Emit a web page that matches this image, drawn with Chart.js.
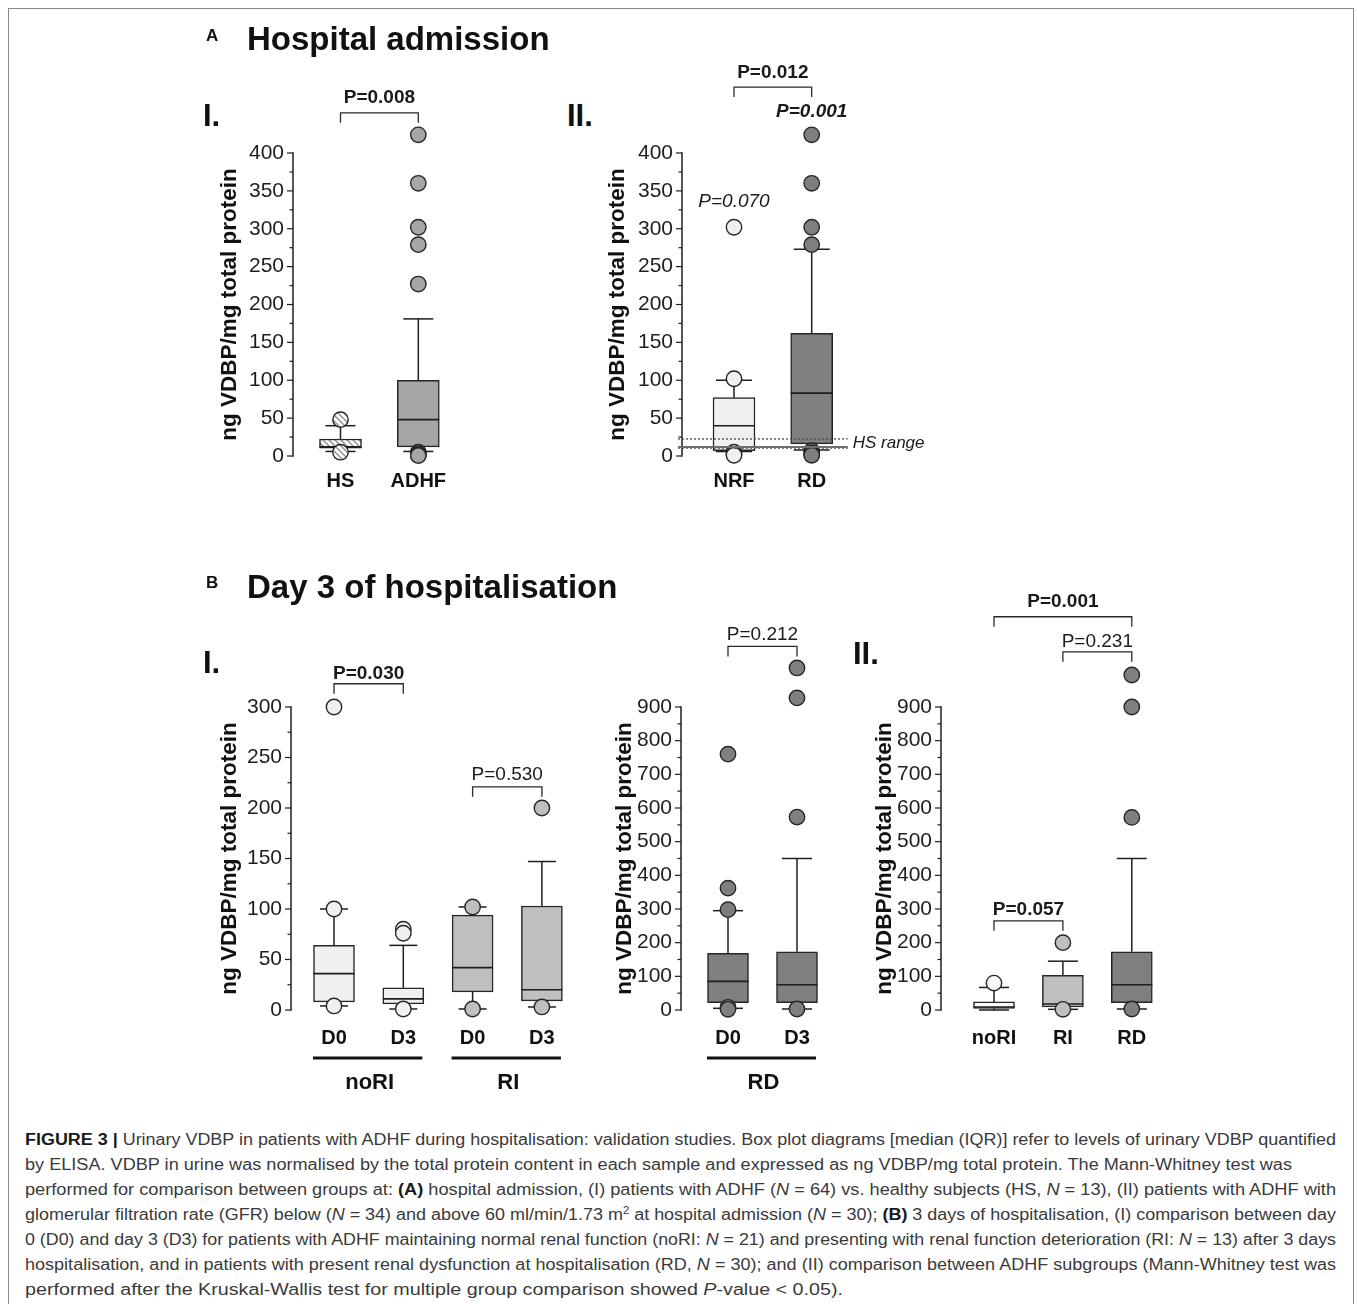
<!DOCTYPE html>
<html><head><meta charset="utf-8">
<script src="https://cdn.jsdelivr.net/npm/chart.js@4.4.1/dist/chart.umd.min.js"></script>
<style>
html,body{margin:0;padding:0;background:#fff;}
body{width:1358px;height:1304px;position:relative;overflow:hidden;font-family:"Liberation Sans",Arial,Helvetica,sans-serif;}
#frame{position:absolute;left:8px;top:8px;width:1346px;height:1330px;border:1px solid #8a8a8a;box-sizing:border-box;}
canvas{position:absolute;}
.hd{position:absolute;font-weight:bold;color:#111;white-space:nowrap;line-height:1;}
.cap{position:absolute;left:25px;white-space:nowrap;font-size:16px;color:#3a3a3a;line-height:25px;transform-origin:0 50%;}
.cap b{color:#1a1a1a;}
.cap sup{font-size:10px;line-height:1;vertical-align:6px;}
</style></head><body>
<div id="frame"></div>
<script>
// ---------------- DATA ----------------
const Y_TITLE = 'ng VDBP/mg total protein';
const A_yTickLabels = [0, 50, 100, 150, 200, 250, 300, 350, 400];
const B1_yTickLabels = [0, 50, 100, 150, 200, 250, 300];
const B_yTickLabels900 = [0, 100, 200, 300, 400, 500, 600, 700, 800, 900];

// A-I: hospital admission, HS vs ADHF
const A1_categories = ['HS', 'ADHF'];
const A1_q1 = [10.5, 12];
const A1_median = [12, 48];
const A1_q3 = [22.5, 100];
const A1_whiskerLow = [6, 6];
const A1_whiskerHigh = [40, 181];
const A1_outliers = [[48, 5], [424, 360, 302, 279, 227, 5, 3, 1.5, 0.5]];

// A-II: NRF vs RD
const A2_categories = ['NRF', 'RD'];
const A2_q1 = [7, 16];
const A2_median = [40, 83];
const A2_q3 = [77, 162];
const A2_whiskerLow = [6, 8];
const A2_whiskerHigh = [100, 273];
const A2_outliers = [[302, 102, 5, 2, 1], [424, 360, 302, 279, 7, 4, 2, 1]];

// B-I: D0 vs D3 in noRI and RI
const B1_categories = ['D0', 'D3', 'D0', 'D3'];
const B1_groups = ['noRI', 'RI'];
const B1_q1 = [8, 6, 18, 9];
const B1_median = [36, 11, 42, 20];
const B1_q3 = [64, 22, 94, 103];
const B1_whiskerLow = [4, 1, 1, 3];
const B1_whiskerHigh = [100, 64, 102, 147];
const B1_outliers = [[300, 100, 4], [80, 76, 1], [102, 1], [200, 3]];

// B-I: D0 vs D3 in RD
const B2_categories = ['D0', 'D3'];
const B2_groups = ['RD'];
const B2_q1 = [22, 22];
const B2_median = [85, 75];
const B2_q3 = [168, 173];
const B2_whiskerLow = [5, 3];
const B2_whiskerHigh = [295, 450];
const B2_outliers = [[760, 362, 298, 8, 2], [1016, 927, 573, 3]];

// B-II: subgroups
const B3_categories = ['noRI', 'RI', 'RD'];
const B3_q1 = [5, 9, 22];
const B3_median = [9, 18, 75];
const B3_q3 = [24, 103, 173];
const B3_whiskerLow = [0, 2, 3];
const B3_whiskerHigh = [67, 145, 450];
const B3_outliers = [[80], [200, 2], [995, 900, 572, 3]];

// HS range shown in A-II comes from the HS box of A-I
const A2_hsRange = [A1_q1[0], A1_median[0], A1_q3[0]];

// ---------------- RENDERING ----------------
const FONT = '"Liberation Sans", Arial, Helvetica, sans-serif';
Chart.defaults.font.family = FONT;
const INK = '#1e1e1e';

function hatchPattern() {
  const c = document.createElement('canvas'); c.width = 6; c.height = 6;
  const g = c.getContext('2d');
  g.fillStyle = '#ffffff'; g.fillRect(0, 0, 6, 6);
  g.strokeStyle = '#8a8a8a'; g.lineWidth = 1.3;
  g.beginPath();
  g.moveTo(-1, -1); g.lineTo(7, 7);
  g.moveTo(-4, 2); g.lineTo(4, 10);
  g.moveTo(2, -4); g.lineTo(10, 4);
  g.stroke();
  return g.createPattern(c, 'repeat');
}
const HATCH = hatchPattern();

const panels = [
  { id: 'A1', cats: A1_categories, q1: A1_q1, med: A1_median, q3: A1_q3, wLo: A1_whiskerLow, wHi: A1_whiskerHigh, out: A1_outliers,
    fills: [HATCH, '#a6a6a6'], yMajor: A_yTickLabels, yMinor: 25,
    L: { left: 293, top: 153, bottom: 456, first: 340.5, step: 77.8, titleOff: 63, xPad: 13, capW: 30, boxW: 42, yScaleMax: 450, rightRoom: 40,
      brackets: [{ from: 1, to: 2, at: 453, textAt: 473, text: 'P=0.008', bold: true }], texts: [] } },
  { id: 'A2', cats: A2_categories, q1: A2_q1, med: A2_median, q3: A2_q3, wLo: A2_whiskerLow, wHi: A2_whiskerHigh, out: A2_outliers,
    fills: ['#f0f0f0', '#7f7f7f'], yMajor: A_yTickLabels, yMinor: 25, hsRange: A2_hsRange,
    L: { left: 682, top: 153, bottom: 456, first: 734, step: 77.7, titleOff: 64, xPad: 13, capW: 36, boxW: 42, yScaleMax: 450, rightRoom: 110,
      brackets: [{ from: 1, to: 2, at: 487, textAt: 506, text: 'P=0.012', bold: true }],
      texts: [{ x: 2, at: 454, text: 'P=0.001', bold: true, italic: true }, { x: 1, at: 336, text: 'P=0.070', italic: true }] } },
  { id: 'B1', cats: B1_categories, groups: B1_groups, q1: B1_q1, med: B1_median, q3: B1_q3, wLo: B1_whiskerLow, wHi: B1_whiskerHigh, out: B1_outliers,
    fills: ['#f0f0f0', '#f0f0f0', '#bfbfbf', '#bfbfbf'], yMajor: B1_yTickLabels, yMinor: 25,
    L: { left: 291, top: 707, bottom: 1010, first: 334, step: 69.3, titleOff: 61, xPad: 16, capW: 28, boxW: 41, yScaleMax: 330, rightRoom: 40,
      brackets: [{ from: 1, to: 2, at: 323, textAt: 333, text: 'P=0.030', bold: true }, { from: 3, to: 4, at: 221, textAt: 232.5, text: 'P=0.530' }],
      texts: [], groupSpans: [[1, 2], [3, 4]] } },
  { id: 'B2', cats: B2_categories, groups: B2_groups, q1: B2_q1, med: B2_median, q3: B2_q3, wLo: B2_whiskerLow, wHi: B2_whiskerHigh, out: B2_outliers,
    fills: ['#7f7f7f', '#7f7f7f'], yMajor: B_yTickLabels900, yMinor: 50,
    L: { left: 681, top: 707, bottom: 1010, first: 728, step: 69, titleOff: 56, xPad: 16, capW: 30, boxW: 41, yScaleMax: 1060, rightRoom: 40,
      brackets: [{ from: 1, to: 2, at: 1080, textAt: 1115, text: 'P=0.212' }], texts: [], groupSpans: [[1, 2]] } },
  { id: 'B3', cats: B3_categories, q1: B3_q1, med: B3_median, q3: B3_q3, wLo: B3_whiskerLow, wHi: B3_whiskerHigh, out: B3_outliers,
    fills: ['#fafafa', '#bfbfbf', '#7f7f7f'], yMajor: B_yTickLabels900, yMinor: 50,
    L: { left: 941, top: 707, bottom: 1010, first: 994, step: 68.9, titleOff: 56, xPad: 16, capW: 30, boxW: 41, yScaleMax: 1060, rightRoom: 40,
      brackets: [{ from: 1, to: 3, at: 1168, textAt: 1212, text: 'P=0.001', bold: true }, { from: 2, to: 3, at: 1064, textAt: 1093, text: 'P=0.231' }, { from: 1, to: 2, at: 265, textAt: 297, text: 'P=0.057', bold: true }],
      texts: [] } }
];

function extras(P) {
  const L = P.L;
  const yTop = P.yMajor[P.yMajor.length - 1];
  return {
    id: 'extras' + P.id,
    beforeDatasetsDraw(chart) {
      const { ctx, scales: { x, y } } = chart;
      ctx.save(); ctx.strokeStyle = INK; ctx.lineWidth = 1.5;
      P.cats.forEach((c, i) => {
        const px = x.getPixelForValue(i + 1);
        const seg = (a, b) => { ctx.beginPath(); ctx.moveTo(px, y.getPixelForValue(a)); ctx.lineTo(px, y.getPixelForValue(b)); ctx.stroke(); };
        const cap = v => { const py = y.getPixelForValue(v); ctx.beginPath(); ctx.moveTo(px - L.capW / 2, py); ctx.lineTo(px + L.capW / 2, py); ctx.stroke(); };
        if (P.wHi[i] > P.q3[i]) { seg(P.q3[i], P.wHi[i]); cap(P.wHi[i]); }
        if (P.wLo[i] < P.q1[i]) { seg(P.q1[i], P.wLo[i]); cap(P.wLo[i]); }
      });
      ctx.restore();
    },
    afterDatasetDraw(chart, args) {
      if (args.meta.type !== 'bar') return;
      const { ctx, scales: { x, y } } = chart;
      ctx.save(); ctx.strokeStyle = INK; ctx.lineWidth = 1.6;
      P.cats.forEach((c, i) => {
        const px = x.getPixelForValue(i + 1), py = y.getPixelForValue(P.med[i]);
        ctx.beginPath(); ctx.moveTo(px - L.boxW / 2, py); ctx.lineTo(px + L.boxW / 2, py); ctx.stroke();
      });
      ctx.restore();
    },
    afterDraw(chart) {
      const { ctx, chartArea: a, scales: { x, y } } = chart;
      ctx.save();
      // y axis line (0 .. top tick)
      const y0 = y.getPixelForValue(0), yT = y.getPixelForValue(yTop);
      ctx.strokeStyle = INK; ctx.lineWidth = 1.5;
      ctx.beginPath(); ctx.moveTo(a.left, y0 + 0.75); ctx.lineTo(a.left, yT - 0.75); ctx.stroke();
      // tick marks
      ctx.lineWidth = 1.2;
      y.ticks.forEach(t => {
        const py = y.getPixelForValue(t.value);
        const len = P.yMajor.includes(t.value) ? 6 : 3.5;
        ctx.beginPath(); ctx.moveTo(a.left - len, py); ctx.lineTo(a.left, py); ctx.stroke();
      });
      // y title
      ctx.save();
      ctx.translate(a.left - L.titleOff, (y0 + yT) / 2); ctx.rotate(-Math.PI / 2);
      ctx.font = `bold 22.5px ${FONT}`; ctx.fillStyle = '#111'; ctx.textAlign = 'center'; ctx.textBaseline = 'middle';
      ctx.fillText(Y_TITLE, 0, 0);
      ctx.restore();
      // HS range
      if (P.hsRange) {
        const xr = x.getPixelForValue(P.cats.length) + 36;
        const [lo, md, hi] = P.hsRange;
        ctx.strokeStyle = '#4a4a4a'; ctx.lineWidth = 1.3; ctx.setLineDash([2, 2]);
        [lo, hi].forEach(v => { const py = y.getPixelForValue(v); ctx.beginPath(); ctx.moveTo(a.left - 4, py); ctx.lineTo(xr, py); ctx.stroke(); });
        ctx.setLineDash([]); ctx.strokeStyle = '#6e6e6e'; ctx.lineWidth = 2;
        const pm = y.getPixelForValue(md);
        ctx.beginPath(); ctx.moveTo(a.left - 4, pm); ctx.lineTo(xr, pm); ctx.stroke();
        ctx.font = `italic 17px ${FONT}`; ctx.fillStyle = '#1a1a1a'; ctx.textAlign = 'left'; ctx.textBaseline = 'middle';
        ctx.fillText('HS range', xr + 5, (y.getPixelForValue(lo) + y.getPixelForValue(hi)) / 2);
      }
      // brackets
      ctx.strokeStyle = '#2a2a2a'; ctx.lineWidth = 1.3; ctx.fillStyle = '#1a1a1a';
      ctx.textAlign = 'center'; ctx.textBaseline = 'middle';
      L.brackets.forEach(b => {
        const x1 = x.getPixelForValue(b.from), x2 = x.getPixelForValue(b.to), py = y.getPixelForValue(b.at);
        ctx.beginPath(); ctx.moveTo(x1, py + 10); ctx.lineTo(x1, py); ctx.lineTo(x2, py); ctx.lineTo(x2, py + 10); ctx.stroke();
        ctx.font = `${b.italic ? 'italic ' : ''}${b.bold ? 'bold ' : ''}19px ${FONT}`;
        ctx.fillText(b.text, (x1 + x2) / 2, y.getPixelForValue(b.textAt));
      });
      L.texts.forEach(t => {
        ctx.font = `${t.italic ? 'italic ' : ''}${t.bold ? 'bold ' : ''}19px ${FONT}`;
        ctx.fillText(t.text, x.getPixelForValue(t.x), y.getPixelForValue(t.at));
      });
      // group bars under categories
      if (P.groups) {
        P.groups.forEach((g, k) => {
          const [f, t] = L.groupSpans[k];
          const x1 = x.getPixelForValue(f) - 21, x2 = x.getPixelForValue(t) + 19;
          ctx.strokeStyle = '#111'; ctx.lineWidth = 3;
          ctx.beginPath(); ctx.moveTo(x1, a.bottom + 48); ctx.lineTo(x2, a.bottom + 48); ctx.stroke();
          ctx.font = `bold 22px ${FONT}`; ctx.fillStyle = '#111';
          ctx.fillText(g, (x1 + x2) / 2 + 2, a.bottom + 73);
        });
      }
      ctx.restore();
    }
  };
}

function makeChart(P) {
  const L = P.L;
  const n = P.cats.length;
  const yTop = P.yMajor[P.yMajor.length - 1];
  const ppu = (L.bottom - L.top) / yTop;
  const areaTop = L.bottom - L.yScaleMax * ppu;
  const xMin = 1 - (L.first - L.left) / L.step;
  const xMax = n + 0.6;
  const right = L.left + (xMax - xMin) * L.step;
  const yW = 80, xH = 40;
  const cx = Math.round(L.left - yW - 6), cy = Math.round(L.top - 135);
  const cw = Math.round(right + L.rightRoom - cx), ch = Math.round(L.bottom + 95 - cy);
  const cv = document.createElement('canvas');
  cv.width = cw; cv.height = ch;
  Object.assign(cv.style, { left: cx + 'px', top: cy + 'px', width: cw + 'px', height: ch + 'px' });
  document.body.appendChild(cv);
  const padding = { left: L.left - cx - yW, top: areaTop - cy, right: cx + cw - right, bottom: cy + ch - L.bottom - xH };

  const boxPts = P.cats.map((c, i) => ({ x: i + 1, y: [P.q1[i], P.q3[i]] }));
  const outPts = [], outFill = [];
  P.out.forEach((arr, i) => arr.forEach(v => { outPts.push({ x: i + 1, y: v }); outFill.push(P.fills[i]); }));
  const tickVals = [];
  for (let v = 0; v <= yTop + 1e-9; v += P.yMinor) tickVals.push(v);

  new Chart(cv, {
    type: 'bar',
    data: { datasets: [
      { type: 'scatter', data: outPts, pointRadius: 7.7, pointHoverRadius: 7.7, pointBackgroundColor: outFill,
        pointBorderColor: '#262626', pointBorderWidth: 1.4, clip: false, order: 0 },
      { type: 'bar', data: boxPts, backgroundColor: P.fills, borderColor: '#262626', borderWidth: 1.5,
        borderSkipped: false, barThickness: L.boxW, grouped: false, clip: false, order: 1 }
    ] },
    options: {
      responsive: false, animation: false, events: [],
      layout: { padding },
      plugins: { legend: { display: false }, tooltip: { enabled: false }, title: { display: false } },
      scales: {
        x: { type: 'linear', min: xMin, max: xMax, offset: false,
          afterFit: s => { s.height = xH; },
          afterBuildTicks: s => { s.ticks = P.cats.map((c, i) => ({ value: i + 1 })); },
          ticks: { autoSkip: false, maxRotation: 0, minRotation: 0, padding: L.xPad, color: '#111',
            font: { size: 20, weight: 'bold' }, callback: (v, i) => P.cats[i] },
          grid: { display: false, drawTicks: false }, border: { display: false } },
        y: { type: 'linear', min: 0, max: L.yScaleMax,
          afterFit: s => { s.width = yW; },
          afterBuildTicks: s => { s.ticks = tickVals.map(v => ({ value: v })); },
          ticks: { autoSkip: false, padding: 9, color: '#1e1e1e', font: { size: 21 },
            callback: v => (P.yMajor.includes(v) ? String(v) : '') },
          grid: { display: false, drawTicks: false }, border: { display: false },
          title: { display: false } }
      }
    },
    plugins: [extras(P)]
  });
}
panels.forEach(makeChart);

// ---------------- HEADINGS & CAPTION ----------------
function heading(text, x, cy, size) {
  const d = document.createElement('div');
  d.className = 'hd'; d.textContent = text;
  d.style.left = x + 'px'; d.style.top = (cy - 0.49 * size) + 'px'; d.style.fontSize = size + 'px';
  document.body.appendChild(d);
}
heading('A', 206, 35, 17);
heading('Hospital admission', 247, 38, 33);
heading('I.', 203, 115, 31);
heading('II.', 567, 115, 31);
heading('B', 206, 582, 17);
heading('Day 3 of hospitalisation', 247, 586, 33);
heading('I.', 203, 662, 31);
heading('II.', 853, 653, 31);

const captionLines = [
  ['<b>FIGURE 3 |</b> Urinary VDBP in patients with ADHF during hospitalisation: validation studies. Box plot diagrams [median (IQR)] refer to levels of urinary VDBP quantified', 1311],
  ['by ELISA. VDBP in urine was normalised by the total protein content in each sample and expressed as ng VDBP/mg total protein. The Mann-Whitney test was', 1267],
  ['performed for comparison between groups at: <b>(A)</b> hospital admission, (I) patients with ADHF (<i>N</i> = 64) vs. healthy subjects (HS, <i>N</i> = 13), (II) patients with ADHF with', 1311],
  ['glomerular filtration rate (GFR) below (<i>N</i> = 34) and above 60 ml/min/1.73 m<sup>2</sup> at hospital admission (<i>N</i> = 30); <b>(B)</b> 3 days of hospitalisation, (I) comparison between day', 1311],
  ['0 (D0) and day 3 (D3) for patients with ADHF maintaining normal renal function (noRI: <i>N</i> = 21) and presenting with renal function deterioration (RI: <i>N</i> = 13) after 3 days', 1311],
  ['hospitalisation, and in patients with present renal dysfunction at hospitalisation (RD, <i>N</i> = 30); and (II) comparison between ADHF subgroups (Mann-Whitney test was', 1311],
  ['performed after the Kruskal-Wallis test for multiple group comparison showed <i>P</i>-value &lt; 0.05).', 818]
];
captionLines.forEach(([html, w], k) => {
  const d = document.createElement('div');
  d.className = 'cap'; d.innerHTML = html;
  d.style.top = (1139 - 12.5 + 25 * k) + 'px';
  document.body.appendChild(d);
  const nat = d.getBoundingClientRect().width;
  d.style.transform = `scaleX(${w / nat})`;
});
</script>
</body></html>
